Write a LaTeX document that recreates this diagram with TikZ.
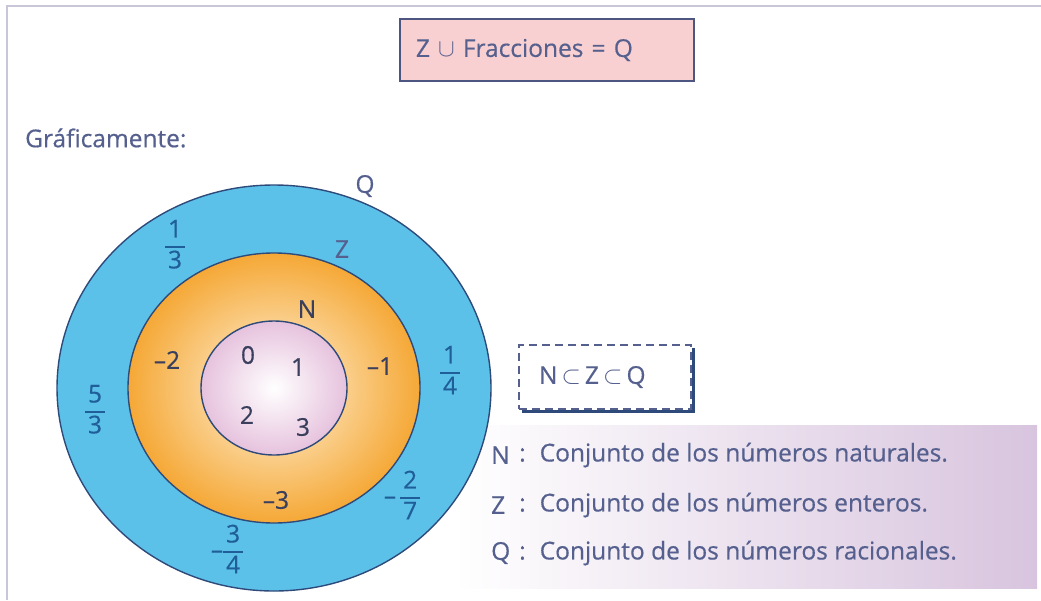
\documentclass[tikz,border=0pt]{standalone}
\usepackage{fontspec}
\setmainfont{Open Sans}[FakeBold=0.5]
\usetikzlibrary{positioning}
\definecolor{Qcol}{HTML}{5CC1E9}
\definecolor{Zout}{HTML}{F5A836}
\definecolor{Zin}{HTML}{FFF4DE}
\definecolor{Nout}{HTML}{E6C2DD}
\definecolor{rimcol}{HTML}{2E4A7A}
\definecolor{txtcol}{HTML}{55608E}
\definecolor{numcol}{HTML}{3A3F5E}
\definecolor{fraccol}{HTML}{1F5E99}
\definecolor{boxcol}{HTML}{F9D0D1}
\definecolor{legcol}{HTML}{D8C4DE}
\definecolor{framecol}{HTML}{C9C6D8}
\def\cx{274}
\def\cy{388}
\newcommand{\frc}[2]{{\renewcommand{\arraystretch}{1.02}\setlength{\arrayrulewidth}{1.3pt}%
  \begin{tabular}{@{\hspace{3pt}}c@{\hspace{3pt}}}#1\\\hline#2\end{tabular}}}

\begin{document}
\begin{tikzpicture}[x=1pt, y=-1pt,
    txt/.style={font=\fontsize{24.5}{29}\selectfont, text=txtcol, inner sep=0pt},
    num/.style={txt, text=numcol},
    fracl/.style={txt, text=fraccol},
    rim/.style={draw=rimcol, line width=1.4pt}]
  \useasboundingbox (0,0) rectangle (1041,600);
  \draw[framecol, line width=1.5pt] (7,600) |- (1041,6);

  \node[txt, draw=txtcol!90!black, line width=1.5pt, fill=boxcol, text width=262pt, inner xsep=16pt, minimum height=62pt, align=left] (union) at (547,50) {Z $\cup$ Fracciones = Q};
  \node[txt, anchor=west] (graf) at (25,138) {Gráficamente:};

  % legend background
  \shade[left color=white, right color=legcol] (455,425) rectangle (1037,588);

  % nested sets
  \draw[rim, fill=Qcol] (\cx,\cy) ellipse [x radius=217, y radius=203];
  \draw[rim, inner color=Zin, outer color=Zout] (\cx,\cy) ellipse [x radius=146, y radius=135];
  \draw[rim, inner color=white, outer color=Nout] (\cx,\cy) ellipse [x radius=73, y radius=67];

  \node[txt] (labQ) at (365,186) {Q};
  \node[txt] (labZ) at (342,249) {Z};
  \node[num] (labN) at (307,309) {N};

  \node[num] (n0) at (248,355) {0};
  \node[num] (n1) at (298,367) {1};
  \node[num] (n2) at (247,415) {2};
  \node[num] (n3) at (303,427) {3};
  \node[num] (zm2) at (167,360) {–2};
  \node[num] (zm1) at (380,366) {–1};
  \node[num] (zm3) at (276,500) {–3};

  \node[fracl] (q13) at (175,247) {\frc{1}{3}};
  \node[fracl] (q14) at (450,373) {\frc{1}{4}};
  \node[fracl] (q53) at (95,412) {\frc{5}{3}};
  \node[fracl] (q27) at (402,498) {–\,\frc{2}{7}};
  \node[fracl] (q34) at (227,552) {–\frc{3}{4}};

  % inclusion box
  \node[txt, draw=txtcol, dash pattern=on 8pt off 5pt, line width=1.2pt, fill=white, text width=132pt, inner xsep=20pt, minimum height=64pt, align=left] (incl) at (605,377) {N\,$\subset$\,Z\,$\subset$\,Q};
  \draw[rimcol, line width=2.5pt] ([xshift=2pt, yshift=-4pt]incl.north east) |- ([xshift=4pt, yshift=-2pt]incl.south west);

  \foreach \k/\kind/\yy in {N/naturales/455, Z/enteros/505, Q/racionales/553} {
    \node[txt, anchor=west] (key\k) at (491,\yy) {\k};
    \node[txt, anchor=west] (def\k) at (519,\yy) {:\hspace{14pt}Conjunto de los números \kind.};
  }
\end{tikzpicture}
\end{document}
